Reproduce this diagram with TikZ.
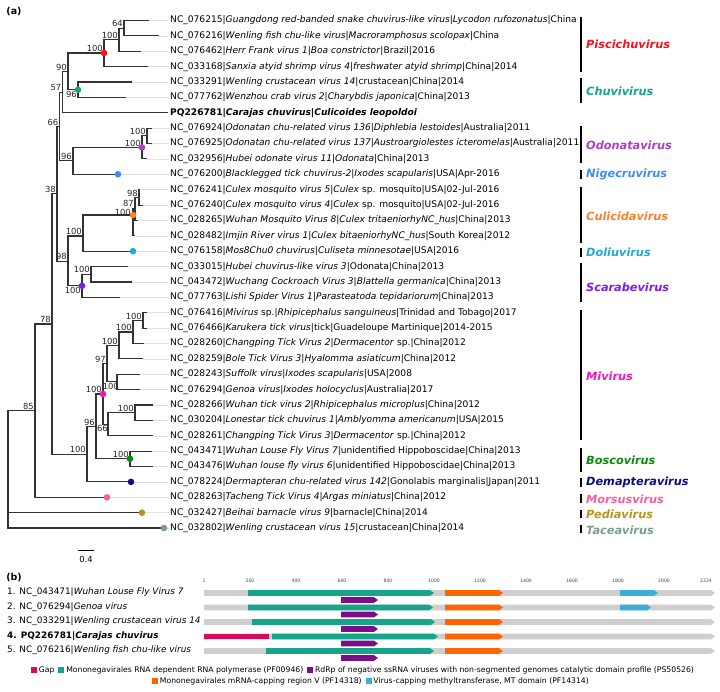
\documentclass[tikz,border=0pt]{standalone}
\usepackage{fontspec}
\setmainfont{DejaVu Sans}
\usetikzlibrary{positioning}

\definecolor{pisc}{HTML}{F5141E}
\definecolor{chuv}{HTML}{1AA386}
\definecolor{odon}{HTML}{B03CC8}
\definecolor{nige}{HTML}{3D8DF5}
\definecolor{culi}{HTML}{FF7F2A}
\definecolor{doli}{HTML}{22AAD4}
\definecolor{scar}{HTML}{7D1AF0}
\definecolor{mivi}{HTML}{F515C0}
\definecolor{bosc}{HTML}{0A8A0A}
\definecolor{dema}{HTML}{0D0D80}
\definecolor{mors}{HTML}{F5609A}
\definecolor{pedi}{HTML}{B8941A}
\definecolor{tace}{HTML}{7A9E92}
\definecolor{trackc}{HTML}{CFCFCF}
\definecolor{gapc}{HTML}{D80B5A}
\definecolor{rdrpc}{HTML}{16A58A}
\definecolor{psc}{HTML}{7A0E8A}
\definecolor{capc}{HTML}{FF6600}
\definecolor{mtc}{HTML}{3AAED8}

\tikzset{
  branch/.style={line width=1.1pt, black!80},
  guide/.style={line width=0.5pt, black!12},
  tiplab/.style={anchor=west, inner sep=1pt, font=\fontsize{9.1}{11}\selectfont},
  genelab/.style={anchor=west, inner sep=1pt, font=\fontsize{8.9}{11}\selectfont},
  bs/.style={anchor=south east, inner sep=1pt, font=\fontsize{8.4}{10}\selectfont, black!85},
  bsb/.style={bs, anchor=north east},
  cladebar/.style={line width=1.4pt},
  cladelab/.style={anchor=west, inner sep=1pt, font=\fontsize{11.3}{13}\selectfont\bfseries\itshape},
  lgbox/.style={minimum size=6pt, inner sep=0pt},
  lgtext/.style={inner sep=0.5pt, font=\fontsize{7.7}{9}\selectfont},
  ruler/.style={inner sep=0pt, font=\fontsize{4.6}{5}\selectfont, black!75},
}

% one domain on a genome track: colour, start, end, y
\newcommand{\gbar}[4]{\fill[#1] (#2,#4-2.8) -- (#3-4,#4-2.8) -- (#3,#4) -- (#3-4,#4+2.8) -- (#2,#4+2.8) -- cycle;}

\begin{document}
\begin{tikzpicture}[x=1pt,y=-1pt]
\useasboundingbox (0,0) rectangle (720,691);

\node[font=\fontsize{9.5}{11}\selectfont\bfseries] (pa) at (14,12) {(a)};

% tips
\coordinate (t01) at (149,20.5);  \node[tiplab] (l01) at (169,20.5) {NC\_076215|\textit{Guangdong red-banded snake chuvirus-like virus}|\textit{Lycodon rufozonatus}|China};
\coordinate (t02) at (159,35.9);  \node[tiplab] (l02) at (169,35.9) {NC\_076216|\textit{Wenling fish chu-like virus}|\textit{Macroramphosus scolopax}|China};
\coordinate (t03) at (141,51.3);  \node[tiplab] (l03) at (169,51.3) {NC\_076462|\textit{Herr Frank virus 1}|\textit{Boa constrictor}|Brazil|2016};
\coordinate (t04) at (148,66.6);  \node[tiplab] (l04) at (169,66.6) {NC\_033168|\textit{Sanxia atyid shrimp virus 4}|\textit{freshwater atyid shrimp}|China|2014};
\coordinate (t05) at (132,82.0);  \node[tiplab] (l05) at (169,82.0) {NC\_033291|\textit{Wenling crustacean virus 14}|crustacean|China|2014};
\coordinate (t06) at (126,97.4);  \node[tiplab] (l06) at (169,97.4) {NC\_077762|\textit{Wenzhou crab virus 2}|\textit{Charybdis japonica}|China|2013};
\coordinate (t07) at (168,112.8); \node[tiplab] (l07) at (169,112.8) {\textbf{PQ226781|\textit{Carajas chuvirus}|\textit{Culicoides leopoldoi}}};
\coordinate (t08) at (152,128.2); \node[tiplab] (l08) at (169,128.2) {NC\_076924|\textit{Odonatan chu-related virus 136}|\textit{Diphlebia lestoides}|Australia|2011};
\coordinate (t09) at (152,143.5); \node[tiplab] (l09) at (169,143.5) {NC\_076925|\textit{Odonatan chu-related virus 137}|\textit{Austroargiolestes icteromelas}|Australia|2011};
\coordinate (t10) at (147,158.9); \node[tiplab] (l10) at (169,158.9) {NC\_032956|\textit{Hubei odonate virus 11}|\textit{Odonata}|China|2013};
\coordinate (t11) at (118,174.3); \node[tiplab] (l11) at (169,174.3) {NC\_076200|\textit{Blacklegged tick chuvirus-2}|\textit{Ixodes scapularis}|USA|Apr-2016};
\coordinate (t12) at (140,189.7); \node[tiplab] (l12) at (169,189.7) {NC\_076241|\textit{Culex mosquito virus 5}|\textit{Culex} sp. mosquito|USA|02-Jul-2016};
\coordinate (t13) at (143,205.1); \node[tiplab] (l13) at (169,205.1) {NC\_076240|\textit{Culex mosquito virus 4}|\textit{Culex} sp. mosquito|USA|02-Jul-2016};
\coordinate (t14) at (138,220.4); \node[tiplab] (l14) at (169,220.4) {NC\_028265|\textit{Wuhan Mosquito Virus 8}|\textit{Culex tritaeniorhyNC\_hus}|China|2013};
\coordinate (t15) at (135,235.8); \node[tiplab] (l15) at (169,235.8) {NC\_028482|\textit{Imjin River virus 1}|\textit{Culex bitaeniorhyNC\_hus}|South Korea|2012};
\coordinate (t16) at (133,251.2); \node[tiplab] (l16) at (169,251.2) {NC\_076158|\textit{Mos8Chu0 chuvirus}|\textit{Culiseta minnesotae}|USA|2016};
\coordinate (t17) at (128,266.6); \node[tiplab] (l17) at (169,266.6) {NC\_033015|\textit{Hubei chuvirus-like virus 3}|Odonata|China|2013};
\coordinate (t18) at (132,282.0); \node[tiplab] (l18) at (169,282.0) {NC\_043472|\textit{Wuchang Cockroach Virus 3}|\textit{Blattella germanica}|China|2013};
\coordinate (t19) at (120,297.3); \node[tiplab] (l19) at (169,297.3) {NC\_077763|\textit{Lishi Spider Virus 1}|\textit{Parasteatoda tepidariorum}|China|2013};
\coordinate (t20) at (147,312.7); \node[tiplab] (l20) at (169,312.7) {NC\_076416|\textit{Mivirus} sp.|\textit{Rhipicephalus sanguineus}|Trinidad and Tobago|2017};
\coordinate (t21) at (147,328.1); \node[tiplab] (l21) at (169,328.1) {NC\_076466|\textit{Karukera tick virus}|tick|Guadeloupe Martinique|2014-2015};
\coordinate (t22) at (144,343.5); \node[tiplab] (l22) at (169,343.5) {NC\_028260|\textit{Changping Tick Virus 2}|\textit{Dermacentor} sp.|China|2012};
\coordinate (t23) at (143,358.9); \node[tiplab] (l23) at (169,358.9) {NC\_028259|\textit{Bole Tick Virus 3}|\textit{Hyalomma asiaticum}|China|2012};
\coordinate (t24) at (140,374.2); \node[tiplab] (l24) at (169,374.2) {NC\_028243|\textit{Suffolk virus}|\textit{Ixodes scapularis}|USA|2008};
\coordinate (t25) at (140,389.6); \node[tiplab] (l25) at (169,389.6) {NC\_076294|\textit{Genoa virus}|\textit{Ixodes holocyclus}|Australia|2017};
\coordinate (t26) at (153,405.0); \node[tiplab] (l26) at (169,405.0) {NC\_028266|\textit{Wuhan tick virus 2}|\textit{Rhipicephalus microplus}|China|2012};
\coordinate (t27) at (153,420.4); \node[tiplab] (l27) at (169,420.4) {NC\_030204|\textit{Lonestar tick chuvirus 1}|\textit{Amblyomma americanum}|USA|2015};
\coordinate (t28) at (153,435.8); \node[tiplab] (l28) at (169,435.8) {NC\_028261|\textit{Changping Tick Virus 3}|\textit{Dermacentor} sp.|China|2012};
\coordinate (t29) at (152,451.1); \node[tiplab] (l29) at (169,451.1) {NC\_043471|\textit{Wuhan Louse Fly Virus 7}|unidentified Hippoboscidae|China|2013};
\coordinate (t30) at (153,466.5); \node[tiplab] (l30) at (169,466.5) {NC\_043476|\textit{Wuhan louse fly virus 6}|unidentified Hippoboscidae|China|2013};
\coordinate (t31) at (131,481.9); \node[tiplab] (l31) at (169,481.9) {NC\_078224|\textit{Dermapteran chu-related virus 142}|Gonolabis marginalis|Japan|2011};
\coordinate (t32) at (107,497.3); \node[tiplab] (l32) at (169,497.3) {NC\_028263|\textit{Tacheng Tick Virus 4}|\textit{Argas miniatus}|China|2012};
\coordinate (t33) at (142,512.7); \node[tiplab] (l33) at (169,512.7) {NC\_032427|\textit{Beihai barnacle virus 9}|barnacle|China|2014};
\coordinate (t34) at (164,528.0); \node[tiplab] (l34) at (169,528.0) {NC\_032802|\textit{Wenling crustacean virus 15}|crustacean|China|2014};

% guide lines from tips to labels
\draw[guide] (t01) -- (l01.west);
\draw[guide] (t02) -- (l02.west);
\draw[guide] (t03) -- (l03.west);
\draw[guide] (t04) -- (l04.west);
\draw[guide] (t05) -- (l05.west);
\draw[guide] (t06) -- (l06.west);
\draw[guide] (t08) -- (l08.west);
\draw[guide] (t09) -- (l09.west);
\draw[guide] (t10) -- (l10.west);
\draw[guide] (t11) -- (l11.west);
\draw[guide] (t12) -- (l12.west);
\draw[guide] (t13) -- (l13.west);
\draw[guide] (t14) -- (l14.west);
\draw[guide] (t15) -- (l15.west);
\draw[guide] (t16) -- (l16.west);
\draw[guide] (t17) -- (l17.west);
\draw[guide] (t18) -- (l18.west);
\draw[guide] (t19) -- (l19.west);
\draw[guide] (t20) -- (l20.west);
\draw[guide] (t21) -- (l21.west);
\draw[guide] (t22) -- (l22.west);
\draw[guide] (t23) -- (l23.west);
\draw[guide] (t24) -- (l24.west);
\draw[guide] (t25) -- (l25.west);
\draw[guide] (t26) -- (l26.west);
\draw[guide] (t27) -- (l27.west);
\draw[guide] (t28) -- (l28.west);
\draw[guide] (t29) -- (l29.west);
\draw[guide] (t30) -- (l30.west);
\draw[guide] (t31) -- (l31.west);
\draw[guide] (t32) -- (l32.west);
\draw[guide] (t33) -- (l33.west);
\draw[guide] (t34) -- (l34.west);

% internal nodes
\coordinate (n64) at (124,28.2);
\coordinate (n100a) at (119,39.7);
\coordinate (nred) at (104,53.0);
\coordinate (nteal) at (78,89.7);
\coordinate (n90) at (68,71.4);
\coordinate (n57) at (62.5,92.1);
\coordinate (nod1) at (147,135.9);
\coordinate (npurple) at (142,147.4);
\coordinate (n96a) at (73,160.9);
\coordinate (n66) at (59.5,126.5);
\coordinate (n98c) at (139,197.4);
\coordinate (n87) at (135,208.9);
\coordinate (norange) at (133,215.0);
\coordinate (n100cd) at (83,236.0);
\coordinate (ns1) at (91,274.3);
\coordinate (nviolet) at (82,285.8);
\coordinate (n98) at (68,261.3);
\coordinate (n38) at (57,193.9);
\coordinate (nm1) at (143,320.4);
\coordinate (nm2) at (133,332.0);
\coordinate (nm3) at (119,345.4);
\coordinate (nm4) at (117,381.9);
\coordinate (n97) at (107,363.7);
\coordinate (nm5) at (135,412.7);
\coordinate (n66m) at (108,424.2);
\coordinate (nmag) at (103,394.0);
\coordinate (ngreen) at (130,458.8);
\coordinate (n96b) at (96,426.4);
\coordinate (n100b) at (87,454.1);
\coordinate (n78) at (52,324.0);
\coordinate (n85) at (35,410.7);
\coordinate (root) at (8,470);

% branches
\draw[branch] (n64) |- (t01);
\draw[branch] (n64) |- (t02);
\draw[branch] (n100a) |- (n64);
\draw[branch] (n100a) |- (t03);
\draw[branch] (nred) |- (n100a);
\draw[branch] (nred) |- (t04);
\draw[branch] (nteal) |- (t05);
\draw[branch] (nteal) |- (t06);
\draw[branch] (n90) |- (nred);
\draw[branch] (n90) |- (nteal);
\draw[branch] (n57) |- (n90);
\draw[branch] (n57) |- (t07);
\draw[branch] (nod1) |- (t08);
\draw[branch] (nod1) |- (t09);
\draw[branch] (npurple) |- (nod1);
\draw[branch] (npurple) |- (t10);
\draw[branch] (n96a) |- (npurple);
\draw[branch] (n96a) |- (t11);
\draw[branch] (n66) |- (n57);
\draw[branch] (n66) |- (n96a);
\draw[branch] (n98c) |- (t12);
\draw[branch] (n98c) |- (t13);
\draw[branch] (n87) |- (n98c);
\draw[branch] (n87) |- (t14);
\draw[branch] (norange) |- (n87);
\draw[branch] (norange) |- (t15);
\draw[branch] (n100cd) |- (norange);
\draw[branch] (n100cd) |- (t16);
\draw[branch] (ns1) |- (t17);
\draw[branch] (ns1) |- (t18);
\draw[branch] (nviolet) |- (ns1);
\draw[branch] (nviolet) |- (t19);
\draw[branch] (n98) |- (n100cd);
\draw[branch] (n98) |- (nviolet);
\draw[branch] (n38) |- (n66);
\draw[branch] (n38) |- (n98);
\draw[branch] (nm1) |- (t20);
\draw[branch] (nm1) |- (t21);
\draw[branch] (nm2) |- (nm1);
\draw[branch] (nm2) |- (t22);
\draw[branch] (nm3) |- (nm2);
\draw[branch] (nm3) |- (t23);
\draw[branch] (nm4) |- (t24);
\draw[branch] (nm4) |- (t25);
\draw[branch] (n97) |- (nm3);
\draw[branch] (n97) |- (nm4);
\draw[branch] (nm5) |- (t26);
\draw[branch] (nm5) |- (t27);
\draw[branch] (n66m) |- (nm5);
\draw[branch] (n66m) |- (t28);
\draw[branch] (nmag) |- (n97);
\draw[branch] (nmag) |- (n66m);
\draw[branch] (ngreen) |- (t29);
\draw[branch] (ngreen) |- (t30);
\draw[branch] (n96b) |- (nmag);
\draw[branch] (n96b) |- (ngreen);
\draw[branch] (n100b) |- (n96b);
\draw[branch] (n100b) |- (t31);
\draw[branch] (n78) |- (n38);
\draw[branch] (n78) |- (n100b);
\draw[branch] (n85) |- (n78);
\draw[branch] (n85) |- (t32);
\draw[branch] (root) |- (n85);
\draw[branch] (root) |- (t33);
\draw[branch] (root) |- (t34);

% bootstrap values
\node[bs] at (n64) {64};
\node[bs] at (n100a) {100};
\node[bs] at (nred) {100};
\node[bs] at (n90) {90};
\node[bsb] at (nteal) {96};
\node[bs] at (n57) {57};
\node[bs] at (n66) {66};
\node[bs] at (nod1) {100};
\node[bs] at (npurple) {100};
\node[bs] at (n96a) {96};
\node[bs] at (n38) {38};
\node[bs] at (n98c) {98};
\node[bs, yshift=1.5pt] at (n87) {87};
\node[bs, yshift=-1.5pt, xshift=-1pt] at (norange) {100};
\node[bs] at (n100cd) {100};
\node[bs] at (n98) {98};
\node[bs] at (ns1) {100};
\node[bsb] at (nviolet) {100};
\node[bs] at (n78) {78};
\node[bs] at (nm1) {100};
\node[bs] at (nm2) {100};
\node[bs] at (nm3) {100};
\node[bs] at (n97) {97};
\node[bsb, xshift=3pt] at (nm4) {100};
\node[bs] at (nm5) {100};
\node[bsb, xshift=1pt] at (n66m) {66};
\node[bs] at (nmag) {100};
\node[bs] at (ngreen) {100};
\node[bs] at (n96b) {96};
\node[bs] at (n100b) {100};
\node[bs] at (n85) {85};

% clade dots
\fill[pisc] (nred) circle (3.3);
\fill[chuv] (nteal) circle (3.3);
\fill[odon] (npurple) circle (3.3);
\fill[nige] (t11) circle (3.3);
\fill[culi] (norange) circle (3.3);
\fill[doli] (t16) circle (3.3);
\fill[scar] (nviolet) circle (3.3);
\fill[mivi] (nmag) circle (3.3);
\fill[bosc] (ngreen) circle (3.3);
\fill[dema] (t31) circle (3.3);
\fill[mors] (t32) circle (3.3);
\fill[pedi] (t33) circle (3.3);
\fill[tace] (t34) circle (3.3);

% clade bars
\draw[cladebar] (581,17) -- (581,72);   \node[cladelab, pisc] (cpisc) at (585,44) {Piscichuvirus};
\draw[cladebar] (581,78) -- (581,103);  \node[cladelab, chuv] (cchuv) at (585,91) {Chuvivirus};
\draw[cladebar] (581,126) -- (581,163); \node[cladelab, odon] (codon) at (585,145) {Odonatavirus};
\draw[cladebar] (581,170) -- (581,179); \node[cladelab, nige] (cnige) at (585,174) {Nigecruvirus};
\draw[cladebar] (581,187) -- (581,243); \node[cladelab, culi] (cculi) at (585,216) {Culicidavirus};
\draw[cladebar] (581,248) -- (581,257); \node[cladelab, doli] (cdoli) at (585,252) {Doliuvirus};
\draw[cladebar] (581,263) -- (581,302); \node[cladelab, scar] (cscar) at (585,287) {Scarabevirus};
\draw[cladebar] (581,310) -- (581,440); \node[cladelab, mivi] (cmivi) at (585,376) {Mivirus};
\draw[cladebar] (581,448) -- (581,472); \node[cladelab, bosc] (cbosc) at (585,460) {Boscovirus};
\draw[cladebar] (581,478) -- (581,487); \node[cladelab, dema] (cdema) at (585,482) {Demapteravirus};
\draw[cladebar] (581,494) -- (581,503); \node[cladelab, mors] (cmors) at (585,499) {Morsusvirus};
\draw[cladebar] (581,510) -- (581,518); \node[cladelab, pedi] (cpedi) at (585,514) {Pediavirus};
\draw[cladebar] (581,525) -- (581,533); \node[cladelab, tace] (ctace) at (585,530) {Taceavirus};

% scale bar
\coordinate (sb1) at (78,550);
\coordinate (sb2) at (94,550);
\draw[line width=1pt] (sb1) -- (sb2);
\node[font=\fontsize{8.4}{10}\selectfont] (sbl) at (86,559) {0.4};

% (b) genome tracks
\node[font=\fontsize{9.5}{11}\selectfont\bfseries] (pb) at (14,578) {(b)};

\node[ruler] (r1) at (204,581) {1};
\node[ruler] (r200) at (250,581) {200};
\node[ruler] (r400) at (296,581) {400};
\node[ruler] (r600) at (342,581) {600};
\node[ruler] (r800) at (388,581) {800};
\node[ruler] (r1000) at (434,581) {1000};
\node[ruler] (r1200) at (480,581) {1200};
\node[ruler] (r1400) at (526,581) {1400};
\node[ruler] (r1600) at (572,581) {1600};
\node[ruler] (r1800) at (618,581) {1800};
\node[ruler] (r2000) at (664,581) {2000};
\node[ruler] (r2224) at (706,581) {2224};

\node[genelab] (g1) at (6,592.5) {1. NC\_043471|\textit{Wuhan Louse Fly Virus 7}};
\node[genelab] (g2) at (6,607) {2. NC\_076294|\textit{Genoa virus}};
\node[genelab] (g3) at (6,621.5) {3. NC\_033291|\textit{Wenling crustacean virus 14}};
\node[genelab] (g4) at (6,636) {\textbf{4. PQ226781|\textit{Carajas chuvirus}}};
\node[genelab] (g5) at (6,650.5) {5. NC\_076216|\textit{Wenling fish chu-like virus}};

\gbar{trackc}{204}{715}{593}
\gbar{rdrpc}{248}{434}{593}
\gbar{capc}{445}{503}{593}
\gbar{mtc}{620}{658}{593}
\gbar{psc}{341}{378}{600}

\gbar{trackc}{204}{715}{607.5}
\gbar{rdrpc}{248}{433}{607.5}
\gbar{capc}{445}{503}{607.5}
\gbar{mtc}{620}{651}{607.5}
\gbar{psc}{341}{378}{614.5}

\gbar{trackc}{204}{715}{622}
\gbar{rdrpc}{252}{435}{622}
\gbar{capc}{445}{503}{622}
\gbar{psc}{341}{378}{629}

\gbar{trackc}{204}{715}{636.5}
\fill[gapc] (204,633.7) rectangle (269,639.3);
\gbar{rdrpc}{272}{438}{636.5}
\gbar{capc}{445}{503}{636.5}
\gbar{psc}{341}{378}{643.5}

\gbar{trackc}{204}{715}{651}
\gbar{rdrpc}{266}{434}{651}
\gbar{capc}{445}{503}{651}
\gbar{psc}{341}{378}{658}

% legend
\node[lgbox, fill=gapc] (kgap) at (34,670) {};
\node[lgtext, right=1pt of kgap] (kgapt) {Gap};
\node[lgbox, fill=rdrpc, right=3pt of kgapt] (krdrp) {};
\node[lgtext, right=1pt of krdrp] (krdrpt) {Mononegavirales RNA dependent RNA polymerase (PF00946)};
\node[lgbox, fill=psc, right=3pt of krdrpt] (kps) {};
\node[lgtext, right=1pt of kps] (kpst) {RdRp of negative ssRNA viruses with non-segmented genomes catalytic domain profile (PS50526)};
\node[lgbox, fill=capc] (kcap) at (155,681) {};
\node[lgtext, right=1pt of kcap] (kcapt) {Mononegavirales mRNA-capping region V (PF14318)};
\node[lgbox, fill=mtc, right=3pt of kcapt] (kmt) {};
\node[lgtext, right=1pt of kmt] (kmtt) {Virus-capping methyltransferase, MT domain (PF14314)};

\end{tikzpicture}
\end{document}
